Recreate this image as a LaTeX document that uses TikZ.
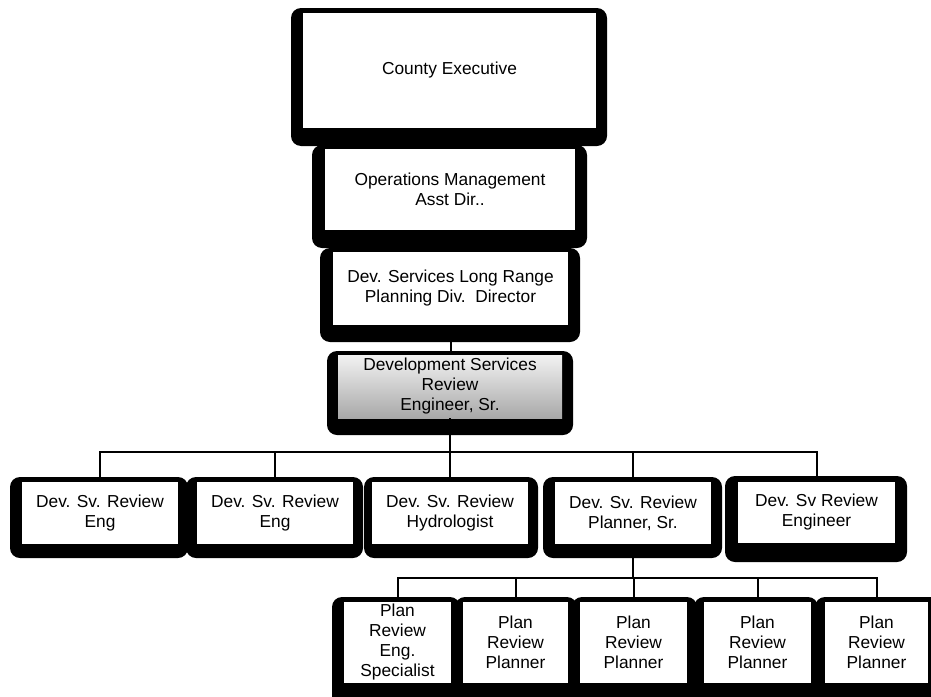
\documentclass[tikz,border=0pt]{standalone}
\usepackage{fontspec}
\setmainfont{Liberation Sans}
\begin{document}
\begin{tikzpicture}[x=0.75pt,y=-0.75pt,
  outerbox/.style={fill=black,rounded corners=7.5pt},
  inbox/.style={fill=white,draw=none,inner sep=0pt,align=center,text=black,
    font=\fontsize{13}{15}\selectfont},
  conn/.style={draw=black,line width=1.5pt}]
\path[use as bounding box] (0,0) rectangle (931,696);
% outer black frames
\fill[outerbox] (291,8) rectangle (607,146);
\fill[outerbox] (312,145) rectangle (587,248);
\fill[outerbox] (320,248) rectangle (580,342);
\fill[outerbox] (327,351) rectangle (573,435);
\fill[outerbox] (10,477) rectangle (188,558);
\fill[outerbox] (186,477) rectangle (363,558);
\fill[outerbox] (364,477) rectangle (538,558);
\fill[outerbox] (543,477) rectangle (722,558);
\fill[outerbox] (725,476) rectangle (907,562);
\fill[outerbox] (332,597) rectangle (460,712);
\fill[outerbox] (455,597) rectangle (577,712);
\fill[outerbox] (572,597) rectangle (697,712);
\fill[outerbox] (694,597) rectangle (818,712);
\fill[outerbox] (815,597) rectangle (945,712);
% inner boxes
\node[inbox,minimum width=293*0.75pt,minimum height=115*0.75pt] (ce) at (449.5,70.5) {County Executive};
\node[inbox,minimum width=250*0.75pt,minimum height=81*0.75pt] (om) at (450,189.5) {Operations Management\\Asst Dir..};
\node[inbox,minimum width=235*0.75pt,minimum height=73*0.75pt] (lr) at (450.5,288.5) {Dev. Services Long Range\\Planning Div.\ \ Director};
\node[inbox,top color=gray!10,bottom color=gray!68,minimum width=224*0.75pt,minimum height=63*0.75pt] (dsr) at (450,386.5) {Development Services\\Review\\Engineer, Sr.};
\node[inbox,minimum width=156*0.75pt,minimum height=62*0.75pt] (e1) at (100,513) {Dev. Sv. Review\\Eng};
\node[inbox,minimum width=156*0.75pt,minimum height=62*0.75pt] (e2) at (275,513) {Dev. Sv. Review\\Eng};
\node[inbox,minimum width=156*0.75pt,minimum height=62*0.75pt] (hy) at (450,513) {Dev. Sv. Review\\Hydrologist};
\node[inbox,minimum width=156*0.75pt,minimum height=62*0.75pt] (ps) at (633,513) {Dev. Sv. Review\\Planner, Sr.};
\node[inbox,minimum width=157*0.75pt,minimum height=61*0.75pt] (en) at (816.5,512.5) {Dev. Sv Review\\Engineer};
\node[inbox,minimum width=107*0.75pt,minimum height=81*0.75pt] (p1) at (397.5,642.5) {Plan\\Review\\Eng.\\Specialist};
\node[inbox,minimum width=105*0.75pt,minimum height=81*0.75pt] (p2) at (515.5,642.5) {Plan\\Review\\Planner};
\node[inbox,minimum width=107*0.75pt,minimum height=81*0.75pt] (p3) at (633.5,642.5) {Plan\\Review\\Planner};
\node[inbox,minimum width=107*0.75pt,minimum height=81*0.75pt] (p4) at (757.5,642.5) {Plan\\Review\\Planner};
\node[inbox,minimum width=103*0.75pt,minimum height=81*0.75pt] (p5) at (876.5,642.5) {Plan\\Review\\Planner};
% connectors
\coordinate (busA) at (450,452);
\coordinate (busB) at (633,578);
\draw[conn] (ce.south) -- (om.north);
\draw[conn] (om.south) -- (om.south |- lr.north);
\draw[conn] (lr.south) -- (lr.south |- dsr.north);
\draw[conn] (dsr.south) -- (busA);
\foreach \c in {e1,e2,hy,ps,en}{\draw[conn] (busA) -| (\c.north);}
\draw[conn] (ps.south) -- (busB);
\foreach \c in {p1,p2,p3,p4,p5}{\draw[conn] (busB) -| (\c.north);}
\end{tikzpicture}
\end{document}
